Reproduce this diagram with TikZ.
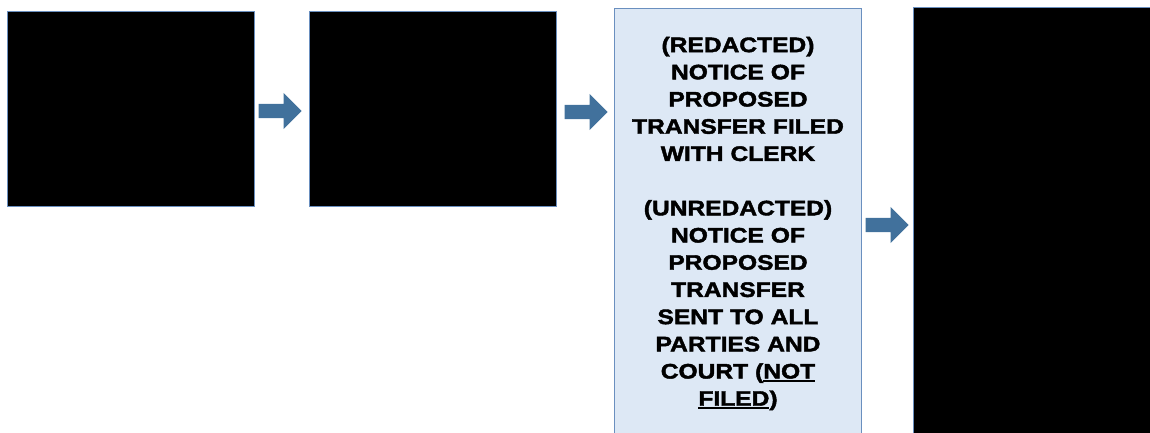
\documentclass[tikz,border=0pt]{standalone}
\usepackage{fontspec}
\usepackage{xcolor}
\usetikzlibrary{shapes.arrows}
\newfontfamily\boxfont[FakeBold=2,FakeStretch=1.17]{Liberation Sans Bold}
\newcommand{\thickul}[1]{\leavevmode\setbox0\hbox{#1}\rlap{\rule[-3.5pt]{\wd0}{1.8pt}}\box0}
\definecolor{edgeblue}{HTML}{6A8FBF}
\definecolor{paleblue}{HTML}{DDE8F5}
\definecolor{arrowblue}{HTML}{41719C}
\tikzset{
  stepbox/.style={draw=edgeblue, line width=1pt, anchor=north west, inner sep=0pt},
  hidden/.style={stepbox, fill=black},
  flow/.style={single arrow, fill=arrowblue, draw=none, minimum height=43pt, anchor=tip,
    inner xsep=0pt, inner ysep=7pt, single arrow head extend=11pt, single arrow tip angle=90}
}
\begin{document}
\begin{tikzpicture}[x=1pt,y=-1pt]
    \useasboundingbox (0,0) rectangle (1150,433);
    % redacted steps
    \node[hidden, minimum width=247pt, minimum height=195pt] (stepA) at (6.5,11) {};
    \node[hidden, minimum width=247pt, minimum height=195pt] (stepB) at (309,11) {};
    % notice of proposed transfer
    \node[stepbox, fill=paleblue, minimum width=247pt, minimum height=430pt,
      text width=247pt, align=center, font=\boxfont\fontsize{21}{27.2}\selectfont]
      (notice) at (614,8) {(REDACTED)\\NOTICE OF\\PROPOSED\\TRANSFER FILED\\WITH CLERK\\[27.2pt]
      (UNREDACTED)\\NOTICE OF\\PROPOSED\\TRANSFER\\SENT TO ALL\\PARTIES AND\\COURT (\thickul{NOT}\\\thickul{FILED})};
    \node[hidden, minimum width=250pt, minimum height=440pt] (stepD) at (913,7) {};
    % arrows
    \node[flow] (flowA) at (302,111) {};
    \node[flow] (flowB) at (608,112) {};
    \node[flow] (flowC) at (909,225) {};
\end{tikzpicture}
\end{document}
